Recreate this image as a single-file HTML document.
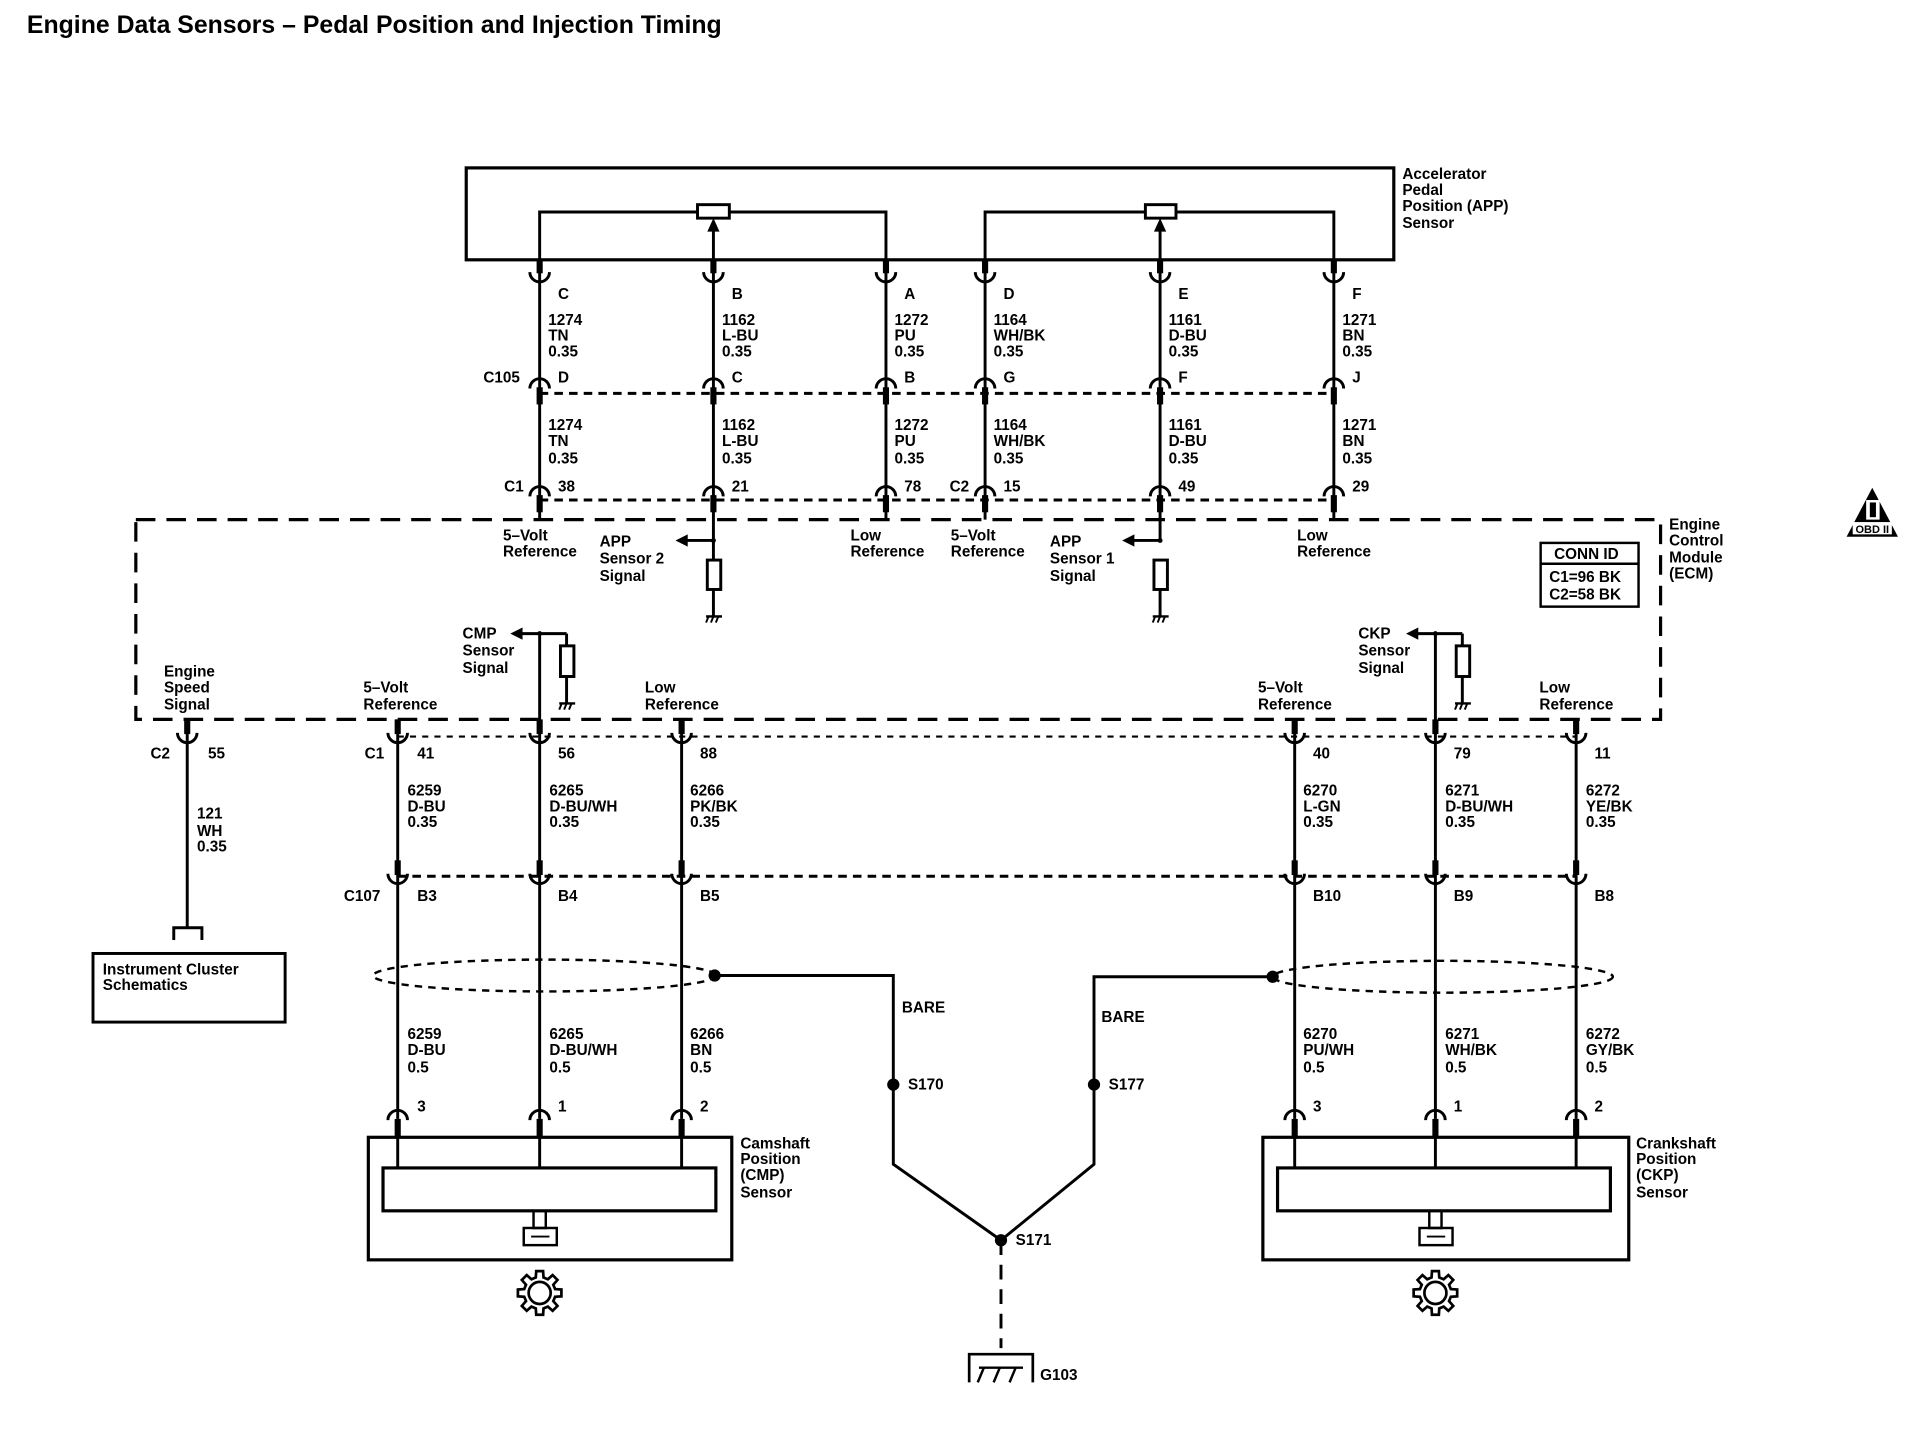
<!DOCTYPE html>
<html><head><meta charset="utf-8"><style>
html,body{margin:0;padding:0;background:#fff;}
svg{display:block;}
text{font-family:"Liberation Sans",sans-serif;font-size:12.5px;font-weight:bold;fill:#000;}
</style></head><body>
<svg width="1920" height="1440" viewBox="0 0 1569 1175" preserveAspectRatio="none" xmlns="http://www.w3.org/2000/svg" xmlns:xlink="http://www.w3.org/1999/xlink">
<defs>
<g id="cup"><rect x="-2.5" y="-12" width="5" height="12" fill="#000"/><path d="M-8 -1 A8 8 0 0 0 8 -1" fill="none" stroke="#000" stroke-width="2.4"/></g>
<g id="arch"><rect x="-2.5" y="0" width="5" height="14" fill="#000"/><path d="M-8 1 A8 8 0 0 1 8 1" fill="none" stroke="#000" stroke-width="2.4"/></g>
<g id="gnd" stroke="#000" fill="none"><line x1="-6" y1="0" x2="7" y2="0" stroke-width="2"/><line x1="-4" y1="0" x2="-6" y2="5" stroke-width="1.6"/><line x1="0" y1="0" x2="-2" y2="5" stroke-width="1.6"/><line x1="4" y1="0" x2="2" y2="5" stroke-width="1.6"/></g>
<g id="gear" fill="none" stroke="#000" stroke-width="2.2"><polygon points="12.61,-3.15 17.78,-2.82 17.78,2.82 12.61,3.15 11.14,6.70 14.56,10.58 10.58,14.56 6.70,11.14 3.15,12.61 2.82,17.78 -2.82,17.78 -3.15,12.61 -6.70,11.14 -10.58,14.56 -14.56,10.58 -11.14,6.70 -12.61,3.15 -17.78,2.82 -17.78,-2.82 -12.61,-3.15 -11.14,-6.70 -14.56,-10.58 -10.58,-14.56 -6.70,-11.14 -3.15,-12.61 -2.82,-17.78 2.82,-17.78 3.15,-12.61 6.70,-11.14 10.58,-14.56 14.56,-10.58 11.14,-6.70"/><circle r="9"/></g>
</defs>
<g stroke="#000" stroke-width="2.4" fill="none">
<rect x="381" y="137" width="758" height="75" stroke-width="2.6"/>
<polyline points="441,212 441,173 724,173 724,212"/>
<polyline points="805,212 805,173 1090,173 1090,212"/>
<rect x="570" y="167" width="26" height="11" fill="#fff"/>
<rect x="936" y="167" width="25" height="11" fill="#fff"/>
<line x1="583" y1="212" x2="583" y2="186"/>
<line x1="948" y1="212" x2="948" y2="186"/>
<rect x="111" y="424" width="1246" height="163" stroke-width="2.6" stroke-dasharray="16,9"/>
<line x1="441" y1="321" x2="1090" y2="321" stroke-dasharray="7,5"/>
<line x1="441" y1="408" x2="1090" y2="408" stroke-dasharray="7,5"/>
<line x1="325" y1="601" x2="1288" y2="601" stroke-dasharray="5,5" stroke-width="1.8"/>
<line x1="325" y1="715" x2="1288" y2="715" stroke-dasharray="7,5"/>
<rect x="1259" y="443" width="80" height="52" stroke-width="2"/>
<line x1="1259" y1="460" x2="1339" y2="460" stroke-width="2"/>
<line x1="560" y1="441" x2="583" y2="441"/>
<line x1="583" y1="441" x2="583" y2="457"/>
<rect x="578" y="457" width="11" height="24"/>
<line x1="583" y1="481" x2="583" y2="503"/>
<line x1="925" y1="441" x2="948" y2="441"/>
<rect x="943" y="457" width="11" height="24"/>
<line x1="948" y1="481" x2="948" y2="503"/>
<line x1="425" y1="517" x2="463" y2="517"/><line x1="463" y1="517" x2="463" y2="527"/>
<rect x="458" y="527" width="11" height="25"/><line x1="463" y1="552" x2="463" y2="574"/>
<line x1="1157" y1="517" x2="1195" y2="517"/><line x1="1195" y1="517" x2="1195" y2="527"/>
<rect x="1190" y="527" width="11" height="25"/><line x1="1195" y1="552" x2="1195" y2="574"/>
<line x1="441" y1="212" x2="441" y2="424"/><line x1="583" y1="212" x2="583" y2="441"/>
<line x1="724" y1="212" x2="724" y2="424"/><line x1="805" y1="212" x2="805" y2="424"/>
<line x1="948" y1="212" x2="948" y2="441"/><line x1="1090" y1="212" x2="1090" y2="424"/>
<line x1="153" y1="587" x2="153" y2="757"/>
<polyline points="142,767 142,757 165,757 165,767"/>
<rect x="76" y="778" width="157" height="56"/>
<line x1="325" y1="587" x2="325" y2="913"/><line x1="441" y1="517" x2="441" y2="913"/>
<line x1="557" y1="587" x2="557" y2="913"/><line x1="1058" y1="587" x2="1058" y2="913"/>
<line x1="1173" y1="517" x2="1173" y2="913"/><line x1="1288" y1="587" x2="1288" y2="913"/>
<ellipse cx="445" cy="796" rx="140" ry="13" stroke-dasharray="6,5" stroke-width="2"/>
<ellipse cx="1179" cy="797" rx="139" ry="13" stroke-dasharray="6,5" stroke-width="2"/>
<polyline points="584,796 730,796 730,950 818,1012 894,950 894,797 1040,797"/>
<line x1="818" y1="1012" x2="818" y2="1100" stroke-dasharray="12,8"/>
<polyline points="792,1128 792,1105 844,1105 844,1128" stroke-width="2.2"/>
<line x1="800" y1="1116" x2="836" y2="1116" stroke-width="2"/>
<line x1="804" y1="1116" x2="799" y2="1128" stroke-width="2"/>
<line x1="817" y1="1116" x2="812" y2="1128" stroke-width="2"/>
<line x1="830" y1="1116" x2="825" y2="1128" stroke-width="2"/>
<rect x="301" y="928" width="297" height="100" stroke-width="2.6"/>
<rect x="313" y="953" width="272" height="35" stroke-width="2.6"/>
<rect x="1032" y="928" width="299" height="100" stroke-width="2.6"/>
<rect x="1044" y="953" width="272" height="35" stroke-width="2.6"/>
<line x1="325" y1="913" x2="325" y2="953"/><line x1="441" y1="913" x2="441" y2="953"/><line x1="557" y1="913" x2="557" y2="953"/>
<line x1="1058" y1="913" x2="1058" y2="953"/><line x1="1173" y1="913" x2="1173" y2="953"/><line x1="1288" y1="913" x2="1288" y2="953"/>
<polyline points="436,988 436,1002 446,1002 446,988" stroke-width="2"/>
<rect x="428" y="1002" width="27" height="14" stroke-width="2"/>
<polyline points="1168,988 1168,1002 1178,1002 1178,988" stroke-width="2"/>
<rect x="1160" y="1002" width="27" height="14" stroke-width="2"/>
<line x1="434" y1="1009" x2="449" y2="1009" stroke-width="1.5"/>
<line x1="1166" y1="1009" x2="1181" y2="1009" stroke-width="1.5"/>
</g>
<g fill="#000">
<polygon points="583,178 578,189 588,189"/><polygon points="948,178 943,189 953,189"/>
<polygon points="552,441 562,436 562,446"/><polygon points="917,441 927,436 927,446"/>
<polygon points="417,517 427,512 427,522"/><polygon points="1149,517 1159,512 1159,522"/>
<circle cx="584" cy="796" r="5"/><circle cx="1040" cy="797" r="5"/>
<circle cx="730" cy="885" r="5"/><circle cx="894" cy="885" r="5"/><circle cx="818" cy="1012" r="5"/>
<circle cx="583" cy="441" r="2"/><circle cx="948" cy="441" r="2"/><circle cx="441" cy="517" r="2"/><circle cx="1173" cy="517" r="2"/>
<polygon points="1530,398 1509,438 1551,438"/>
</g>
<rect x="1525" y="408" width="11" height="16" fill="#fff"/><rect x="1528" y="410" width="5" height="12" fill="#000"/>
<rect x="1514" y="426" width="32" height="10" fill="#fff"/>
<text x="1530" y="435" text-anchor="middle" style="font-size:9px">OBD II</text>

<use xlink:href="#cup" x="441" y="223"/><use xlink:href="#cup" x="583" y="223"/><use xlink:href="#cup" x="724" y="223"/>
<use xlink:href="#cup" x="805" y="223"/><use xlink:href="#cup" x="948" y="223"/><use xlink:href="#cup" x="1090" y="223"/>
<use xlink:href="#arch" x="441" y="316"/><use xlink:href="#arch" x="583" y="316"/><use xlink:href="#arch" x="724" y="316"/>
<use xlink:href="#arch" x="805" y="316"/><use xlink:href="#arch" x="948" y="316"/><use xlink:href="#arch" x="1090" y="316"/>
<use xlink:href="#arch" x="441" y="404"/><use xlink:href="#arch" x="583" y="404"/><use xlink:href="#arch" x="724" y="404"/>
<use xlink:href="#arch" x="805" y="404"/><use xlink:href="#arch" x="948" y="404"/><use xlink:href="#arch" x="1090" y="404"/>
<use xlink:href="#cup" x="153" y="599"/>
<use xlink:href="#cup" x="325" y="599"/><use xlink:href="#cup" x="441" y="599"/><use xlink:href="#cup" x="557" y="599"/>
<use xlink:href="#cup" x="1058" y="599"/><use xlink:href="#cup" x="1173" y="599"/><use xlink:href="#cup" x="1288" y="599"/>
<use xlink:href="#cup" x="325" y="714"/><use xlink:href="#cup" x="441" y="714"/><use xlink:href="#cup" x="557" y="714"/>
<use xlink:href="#cup" x="1058" y="714"/><use xlink:href="#cup" x="1173" y="714"/><use xlink:href="#cup" x="1288" y="714"/>
<use xlink:href="#arch" x="325" y="913"/><use xlink:href="#arch" x="441" y="913"/><use xlink:href="#arch" x="557" y="913"/>
<use xlink:href="#arch" x="1058" y="913"/><use xlink:href="#arch" x="1173" y="913"/><use xlink:href="#arch" x="1288" y="913"/>
<use xlink:href="#gnd" x="583" y="503"/><use xlink:href="#gnd" x="948" y="503"/><use xlink:href="#gnd" x="463" y="574"/><use xlink:href="#gnd" x="1195" y="574"/>
<use xlink:href="#gear" x="441" y="1055"/><use xlink:href="#gear" x="1173" y="1055"/>

<text x="22" y="27" style="font-size:20.3px">Engine Data Sensors – Pedal Position and Injection Timing</text>
<g>
<text x="1146" y="146">Accelerator</text><text x="1146" y="159">Pedal</text><text x="1146" y="172">Position (APP)</text><text x="1146" y="186">Sensor</text>
<text x="1364" y="432">Engine</text><text x="1364" y="445">Control</text><text x="1364" y="459">Module</text><text x="1364" y="472">(ECM)</text>
<text x="1270" y="456">CONN ID</text><text x="1266" y="475">C1=96 BK</text><text x="1266" y="489">C2=58 BK</text>
<text x="456" y="244">C</text><text x="598" y="244">B</text><text x="739" y="244">A</text><text x="820" y="244">D</text><text x="963" y="244">E</text><text x="1105" y="244">F</text>
<text x="448" y="265">1274</text><text x="448" y="278">TN</text><text x="448" y="291">0.35</text>
<text x="590" y="265">1162</text><text x="590" y="278">L-BU</text><text x="590" y="291">0.35</text>
<text x="731" y="265">1272</text><text x="731" y="278">PU</text><text x="731" y="291">0.35</text>
<text x="812" y="265">1164</text><text x="812" y="278">WH/BK</text><text x="812" y="291">0.35</text>
<text x="955" y="265">1161</text><text x="955" y="278">D-BU</text><text x="955" y="291">0.35</text>
<text x="1097" y="265">1271</text><text x="1097" y="278">BN</text><text x="1097" y="291">0.35</text>
<text x="395" y="312">C105</text>
<text x="456" y="312">D</text><text x="598" y="312">C</text><text x="739" y="312">B</text><text x="820" y="312">G</text><text x="963" y="312">F</text><text x="1105" y="312">J</text>
<text x="448" y="351">1274</text><text x="448" y="364">TN</text><text x="448" y="378">0.35</text>
<text x="590" y="351">1162</text><text x="590" y="364">L-BU</text><text x="590" y="378">0.35</text>
<text x="731" y="351">1272</text><text x="731" y="364">PU</text><text x="731" y="378">0.35</text>
<text x="812" y="351">1164</text><text x="812" y="364">WH/BK</text><text x="812" y="378">0.35</text>
<text x="955" y="351">1161</text><text x="955" y="364">D-BU</text><text x="955" y="378">0.35</text>
<text x="1097" y="351">1271</text><text x="1097" y="364">BN</text><text x="1097" y="378">0.35</text>
<text x="412" y="401">C1</text><text x="776" y="401">C2</text>
<text x="456" y="401">38</text><text x="598" y="401">21</text><text x="739" y="401">78</text><text x="820" y="401">15</text><text x="963" y="401">49</text><text x="1105" y="401">29</text>
<text x="411" y="441">5–Volt</text><text x="411" y="454">Reference</text>
<text x="490" y="446">APP</text><text x="490" y="460">Sensor 2</text><text x="490" y="474">Signal</text>
<text x="695" y="441">Low</text><text x="695" y="454">Reference</text>
<text x="777" y="441">5–Volt</text><text x="777" y="454">Reference</text>
<text x="858" y="446">APP</text><text x="858" y="460">Sensor 1</text><text x="858" y="474">Signal</text>
<text x="1060" y="441">Low</text><text x="1060" y="454">Reference</text>
<text x="378" y="521">CMP</text><text x="378" y="535">Sensor</text><text x="378" y="549">Signal</text>
<text x="1110" y="521">CKP</text><text x="1110" y="535">Sensor</text><text x="1110" y="549">Signal</text>
<text x="134" y="552">Engine</text><text x="134" y="565">Speed</text><text x="134" y="579">Signal</text>
<text x="297" y="565">5–Volt</text><text x="297" y="579">Reference</text>
<text x="527" y="565">Low</text><text x="527" y="579">Reference</text>
<text x="1028" y="565">5–Volt</text><text x="1028" y="579">Reference</text>
<text x="1258" y="565">Low</text><text x="1258" y="579">Reference</text>
<text x="123" y="619">C2</text><text x="170" y="619">55</text>
<text x="298" y="619">C1</text><text x="341" y="619">41</text><text x="456" y="619">56</text><text x="572" y="619">88</text>
<text x="1073" y="619">40</text><text x="1188" y="619">79</text><text x="1303" y="619">11</text>
<text x="161" y="668">121</text><text x="161" y="682">WH</text><text x="161" y="695">0.35</text>
<text x="333" y="649">6259</text><text x="333" y="662">D-BU</text><text x="333" y="675">0.35</text>
<text x="449" y="649">6265</text><text x="449" y="662">D-BU/WH</text><text x="449" y="675">0.35</text>
<text x="564" y="649">6266</text><text x="564" y="662">PK/BK</text><text x="564" y="675">0.35</text>
<text x="1065" y="649">6270</text><text x="1065" y="662">L-GN</text><text x="1065" y="675">0.35</text>
<text x="1181" y="649">6271</text><text x="1181" y="662">D-BU/WH</text><text x="1181" y="675">0.35</text>
<text x="1296" y="649">6272</text><text x="1296" y="662">YE/BK</text><text x="1296" y="675">0.35</text>
<text x="281" y="735">C107</text>
<text x="341" y="735">B3</text><text x="456" y="735">B4</text><text x="572" y="735">B5</text>
<text x="1073" y="735">B10</text><text x="1188" y="735">B9</text><text x="1303" y="735">B8</text>
<text x="84" y="795">Instrument Cluster</text><text x="84" y="808">Schematics</text>
<text x="737" y="826">BARE</text><text x="900" y="834">BARE</text>
<text x="742" y="889">S170</text><text x="906" y="889">S177</text><text x="830" y="1016">S171</text><text x="850" y="1126">G103</text>
<text x="333" y="848">6259</text><text x="333" y="861">D-BU</text><text x="333" y="875">0.5</text>
<text x="449" y="848">6265</text><text x="449" y="861">D-BU/WH</text><text x="449" y="875">0.5</text>
<text x="564" y="848">6266</text><text x="564" y="861">BN</text><text x="564" y="875">0.5</text>
<text x="1065" y="848">6270</text><text x="1065" y="861">PU/WH</text><text x="1065" y="875">0.5</text>
<text x="1181" y="848">6271</text><text x="1181" y="861">WH/BK</text><text x="1181" y="875">0.5</text>
<text x="1296" y="848">6272</text><text x="1296" y="861">GY/BK</text><text x="1296" y="875">0.5</text>
<text x="341" y="907">3</text><text x="456" y="907">1</text><text x="572" y="907">2</text>
<text x="1073" y="907">3</text><text x="1188" y="907">1</text><text x="1303" y="907">2</text>
<text x="605" y="937">Camshaft</text><text x="605" y="950">Position</text><text x="605" y="963">(CMP)</text><text x="605" y="977">Sensor</text>
<text x="1337" y="937">Crankshaft</text><text x="1337" y="950">Position</text><text x="1337" y="963">(CKP)</text><text x="1337" y="977">Sensor</text>
</g>
</svg>
</body></html>
